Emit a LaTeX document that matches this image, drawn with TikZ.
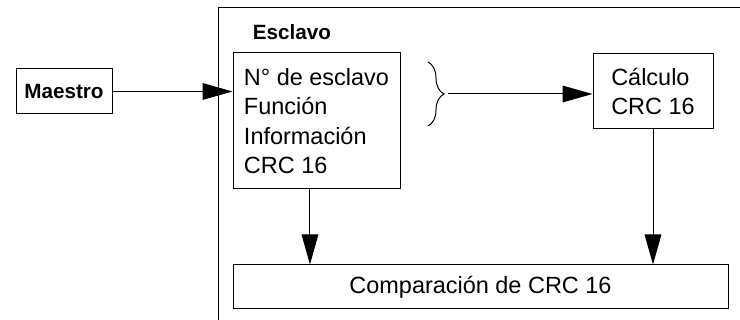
\documentclass[tikz,border=0pt]{standalone}
\usepackage{fontspec}
\setmainfont{Liberation Sans}
\usetikzlibrary{arrows.meta,positioning,calc,decorations.pathreplacing}

\begin{document}
\begin{tikzpicture}[x=0.75pt,y=0.75pt,line width=0.75pt,
 >={Triangle[length=22.5pt,width=12.5pt]},
 box/.style={draw,inner sep=0pt,font=\fontsize{17.6}{22}\selectfont},
 title/.style={font=\fontsize{15.5}{18}\selectfont\bfseries}]
\useasboundingbox (0,0) rectangle (740,320);
% slave frame, only its left and top edges are in view
\draw (218,0)--(218,312)--(740,312);
\node[title,anchor=base west] (esclavo) at (248,280) {Esclavo};
\node[box,title,minimum width=72pt,minimum height=33.75pt] (maestro) at (64,228.5) {Maestro};
\node[box,align=left,minimum width=125.25pt,minimum height=102pt] (trama) at (316.5,199)
 {N° de esclavo\\Función\\Información\\CRC 16};
\node[box,align=left,minimum width=90pt,minimum height=56.25pt] (calculo) at (653,228.5)
 {Cálculo\\CRC 16};
\node[box,minimum width=371.25pt,minimum height=33pt] (comparacion) at (480.5,33)
 {Comparación de CRC 16};
% brace over the first three fields
\draw[decorate,decoration={brace,amplitude=12pt}] (428,258)--(428,194);
\coordinate (bracetip) at (448,226);
\draw[->] (maestro.east) -- (maestro.east -| trama.west);
\draw[->] (bracetip) -- (bracetip -| calculo.west);
\draw[->] ([xshift=-4.9pt]trama.south) coordinate (d1) -- (d1 |- comparacion.north);
\draw[->] (calculo.south) -- (calculo.south |- comparacion.north);
\end{tikzpicture}
\end{document}
